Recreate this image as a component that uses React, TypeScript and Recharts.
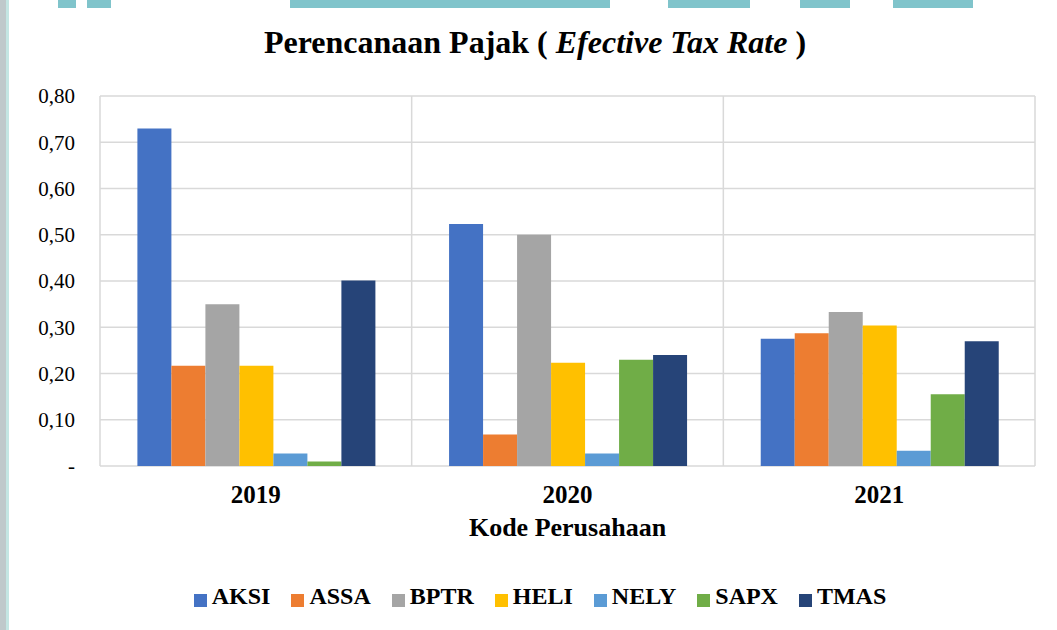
import { BarChart, Bar, XAxis, YAxis, CartesianGrid, Legend } from "recharts";

/* ── Data ────────────────────────────────────────────────── */
const years = ["2019", "2020", "2021"];
const aksi = [0.73, 0.523, 0.275];
const assa = [0.217, 0.068, 0.287];
const bptr = [0.35, 0.5, 0.333];
const heli = [0.217, 0.223, 0.304];
const nely = [0.027, 0.027, 0.033];
const sapx = [0.01, 0.23, 0.155];
const tmas = [0.401, 0.24, 0.27];
const yTicks = [0, 0.1, 0.2, 0.3, 0.4, 0.5, 0.6, 0.7, 0.8];

const series = [
  { key: "AKSI", values: aksi, color: "#4472C4" },
  { key: "ASSA", values: assa, color: "#ED7D31" },
  { key: "BPTR", values: bptr, color: "#A5A5A5" },
  { key: "HELI", values: heli, color: "#FFC000" },
  { key: "NELY", values: nely, color: "#5B9BD5" },
  { key: "SAPX", values: sapx, color: "#70AD47" },
  { key: "TMAS", values: tmas, color: "#264478" },
];

const data = years.map((year, i) => {
  const row: Record<string, string | number> = { year };
  series.forEach((s) => (row[s.key] = s.values[i]));
  return row;
});

const FONT = '"Liberation Serif", "Times New Roman", serif';
const TEAL = "#80c4cb";

// teal watermark strip along the top edge (background decoration)
const stripes = [
  [58, 18],
  [87, 24],
  [290, 320],
  [668, 82],
  [800, 50],
  [893, 80],
];

const fmt = (v: number) => (v === 0 ? "-" : v.toFixed(2).replace(".", ","));

// Excel style: vertical grid lines sit on the category boundaries, not centres
// eslint-disable-next-line @typescript-eslint/no-explicit-any
const categoryBounds = (props: any) => {
  const { offset } = props;
  return [0, 1, 2, 3].map((i) => offset.left + (offset.width * i) / years.length);
};

export default function App() {
  return (
    <div
      style={{
        position: "absolute",
        left: 0,
        top: 0,
        width: 1057,
        height: 630,
        background: "#fff",
        overflow: "hidden",
        fontFamily: FONT,
      }}
    >
      {stripes.map(([x, w], i) => (
        <div
          key={i}
          style={{ position: "absolute", left: x, top: 0, width: w, height: 8, background: TEAL }}
        />
      ))}
      <div style={{ position: "absolute", left: 0, top: 0, width: 6, height: 630, background: "#bfc9cb" }} />
      <div style={{ position: "absolute", left: 6, top: 0, width: 3, height: 630, background: "#c4e6e3" }} />

      <div
        style={{
          position: "absolute",
          left: 0,
          top: 24,
          width: 1070,
          textAlign: "center",
          fontSize: 32,
          fontWeight: 700,
          color: "#000",
          lineHeight: "36px",
        }}
      >
        Perencanaan Pajak ( <i>Efective Tax Rate</i> )
      </div>

      <div style={{ position: "absolute", left: 0, top: 0 }}>
        <BarChart
          width={1057}
          height={630}
          data={data}
          margin={{ top: 96, right: 22, left: 0, bottom: 17 }}
          barCategoryGap="12%"
          barGap={0}
        >
          <CartesianGrid
            stroke="#d9d9d9"
            strokeWidth={1.5}
            verticalCoordinatesGenerator={categoryBounds}
          />
          <XAxis
            dataKey="year"
            axisLine={false}
            tickLine={false}
            tickSize={0}
            tickMargin={19}
            height={117}
            tick={{ fontSize: 25, fontWeight: 700, fill: "#000", fontFamily: FONT }}
            label={{
              value: "Kode Perusahaan",
              position: "insideTop",
              offset: 52,
              style: { fontSize: 26, fontWeight: 700, fill: "#000", fontFamily: FONT },
            }}
          />
          <YAxis
            domain={[0, 0.8]}
            ticks={yTicks}
            tickFormatter={fmt}
            axisLine={false}
            tickLine={false}
            tickSize={0}
            tickMargin={25}
            width={100}
            tick={{ fontSize: 21, fill: "#000", fontFamily: FONT }}
          />
          <Legend
            verticalAlign="bottom"
            height={30}
            iconType="square"
            iconSize={13}
            wrapperStyle={{ left: 33 }}
            formatter={(value: string) => (
              <span
                style={{
                  color: "#000",
                  fontWeight: 700,
                  fontSize: 24,
                  fontFamily: FONT,
                  marginRight: 11,
                  marginLeft: 1,
                }}
              >
                {value}
              </span>
            )}
          />
          {series.map((s) => (
            <Bar key={s.key} dataKey={s.key} fill={s.color} isAnimationActive={false} />
          ))}
        </BarChart>
      </div>
    </div>
  );
}
